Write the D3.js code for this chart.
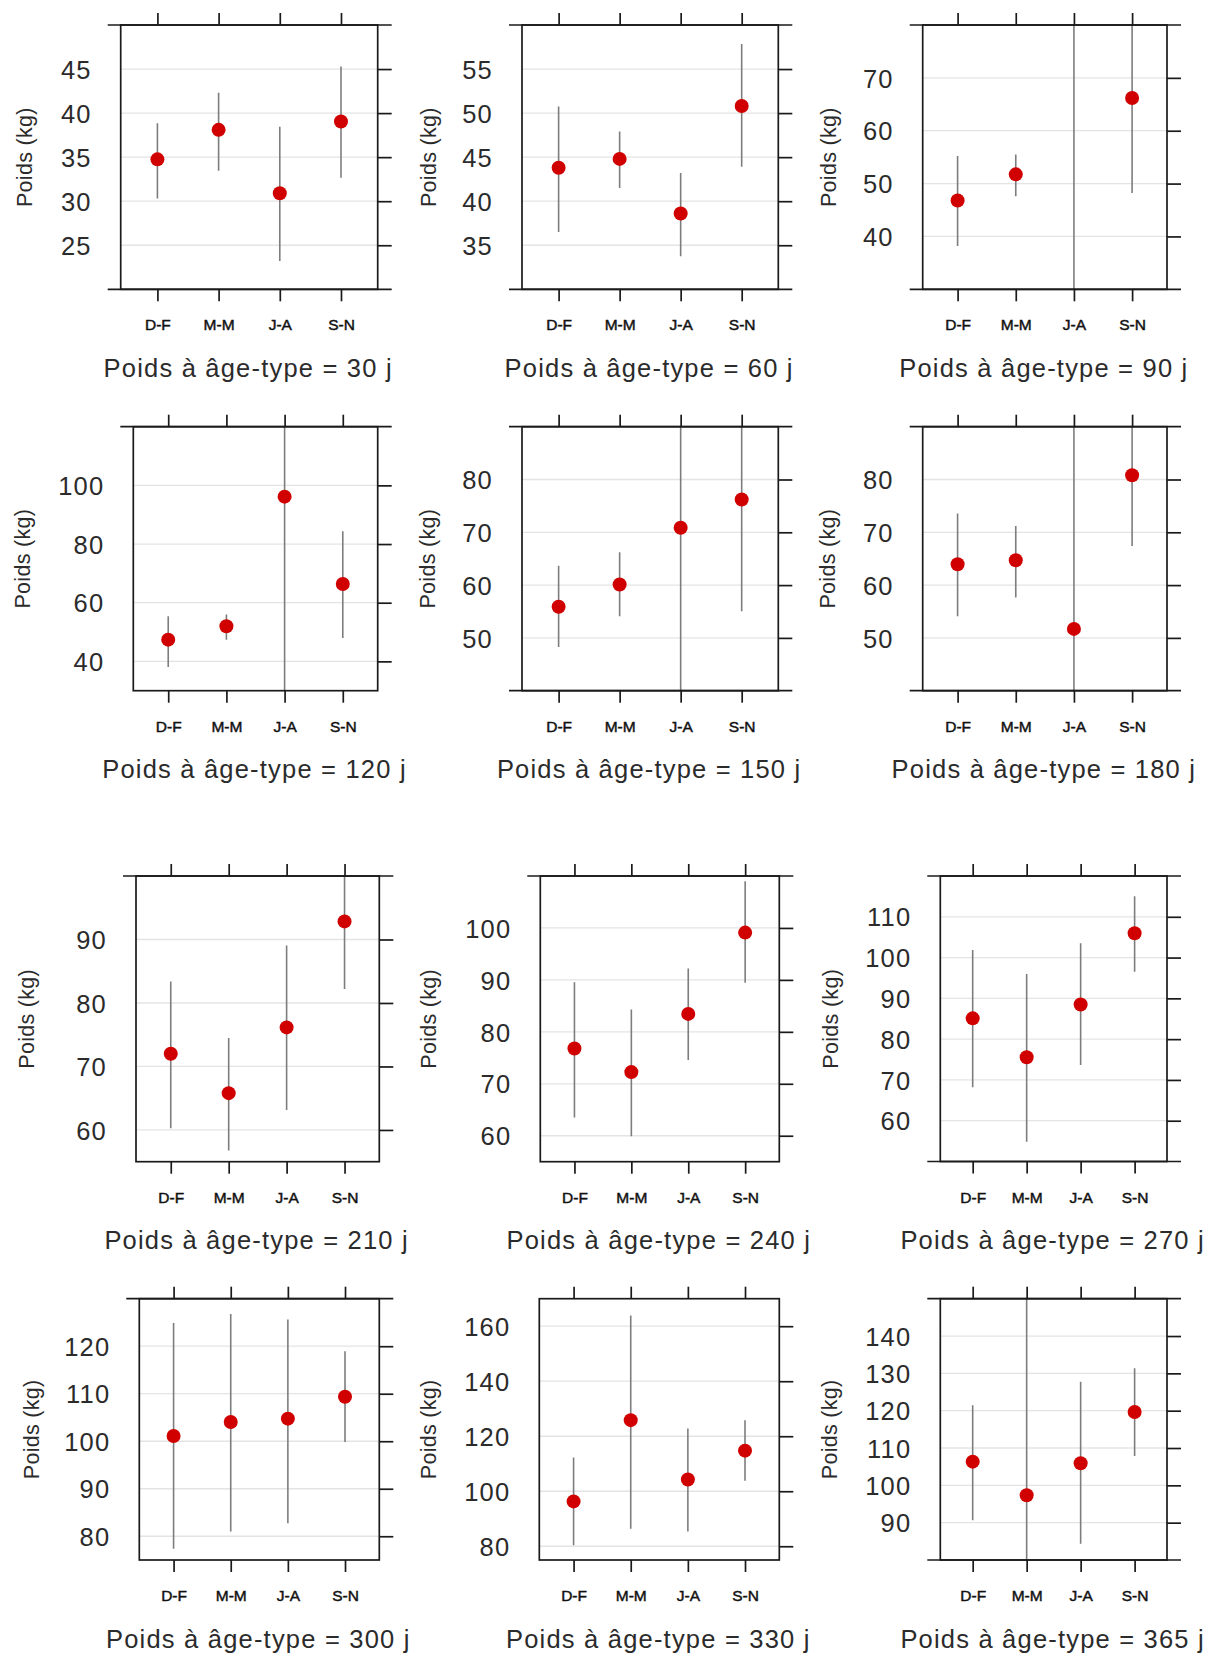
<!DOCTYPE html>
<html><head><meta charset="utf-8">
<script src="https://cdn.jsdelivr.net/npm/d3@7"></script>
<style>body{margin:0;background:#fff} svg{display:block}</style>
</head><body>
<svg id="c" width="1217" height="1656"></svg>
<script>
const categories = ["D-F","M-M","J-A","S-N"];
const ages = [30,60,90,120,150,180,210,240,270,300,330,365];
const yDomains = [[20,50],[30,60],[30,80],[30,120],[40,90],[40,90],[55,100],[55,110],[50,120],[75,130],[75,170],[80,150]];
const tickSteps = [5,5,10,20,10,10,10,10,10,10,20,10];
const means = [
  [34.75, 38.1, 30.9, 39.05],
  [43.8, 44.8, 38.6, 50.8],
  [46.8, 51.75, 27, 66.2],
  [47.4, 51.95, 96.15, 66.4],
  [55.9, 60.1, 70.85, 76.2],
  [63.95, 64.7, 51.7, 80.8],
  [72, 65.8, 76.15, 92.85],
  [76.8, 72.25, 83.45, 99.1],
  [85.1, 75.55, 88.5, 105.95],
  [101.1, 104.05, 104.75, 109.35],
  [96.3, 125.85, 104.25, 114.75],
  [106.35, 97.35, 105.9, 119.65]
];
const lowers = [
  [30.3, 33.45, 23.2, 32.65],
  [36.5, 41.5, 33.75, 43.9],
  [38.2, 47.6, -20, 48.2],
  [38.1, 47.4, 26, 48],
  [48.3, 54.1, 37.8, 55.05],
  [54.1, 57.65, 11.7, 67.4],
  [60.25, 56.75, 63.15, 82.2],
  [63.5, 59.9, 74.6, 89.45],
  [68.2, 54.85, 73.65, 96.5],
  [77.35, 81, 82.75, 99.85],
  [80.35, 86.4, 85.4, 103.8],
  [90.65, 42, 84.35, 107.85]
];
const uppers = [
  [38.85, 42.3, 38.45, 45.3],
  [50.75, 47.9, 43.2, 57.85],
  [55.2, 55.5, 92, 84.5],
  [55.4, 55.95, 166, 84.4],
  [63.65, 66.2, 103.9, 97.3],
  [73.55, 71.2, 91.7, 94.2],
  [83.4, 74.5, 89.05, 103.5],
  [89.55, 84.3, 92.2, 109],
  [101.85, 95.95, 103.5, 115.05],
  [124.9, 126.8, 125.6, 118.95],
  [112.3, 163.85, 122.8, 125.85],
  [121.45, 152, 127.75, 131.35]
];

// layout (pixel boxes of each panel)
const layout = [
  {x0:120.7,x1:377.7,y0:25,y1:289.3,yl:25},
  {x0:522,x1:778.3,y0:25,y1:289.3,yl:428.7},
  {x0:922.7,x1:1167,y0:25,y1:289.3,yl:829.3},
  {x0:133.3,x1:377.7,y0:426.7,y1:690.7,yl:23.3},
  {x0:522,x1:778.3,y0:426.7,y1:690.7,yl:427.7},
  {x0:922.7,x1:1167,y0:426.7,y1:690.7,yl:828.3},
  {x0:136,x1:379.3,y0:876,y1:1161.7,yl:26.7},
  {x0:540.3,x1:779.3,y0:876,y1:1161.7,yl:429.3},
  {x0:940.3,x1:1167,y0:876,y1:1161.5,yl:831},
  {x0:139.3,x1:379.3,y0:1298.7,y1:1560,yl:31.7},
  {x0:539.3,x1:779.3,y0:1298.7,y1:1560,yl:429.3},
  {x0:940.3,x1:1167,y0:1298.7,y1:1560,yl:830.3}
];

const FONT = "'Liberation Sans', Arial, sans-serif";
const INK = "#1a1a1a";
const svg = d3.select("#c");
const defs = svg.append("defs");

ages.forEach((age, i) => {
  const L = layout[i];
  const [lo, hi] = yDomains[i];
  const st = tickSteps[i];
  const x = d3.scalePoint().domain(categories).range([L.x0, L.x1]).padding(0.6);
  const y = d3.scaleLinear().domain(yDomains[i]).range([L.y1, L.y0]);
  const ticks = d3.range(Math.ceil(lo / st - 1e-9) * st, hi + 1e-9, st);
  const inner = ticks.filter(t => t > lo + 1e-9 && t < hi - 1e-9);
  const ends = ticks.filter(t => Math.abs(t - lo) < 1e-9 || Math.abs(t - hi) < 1e-9);

  const g = svg.append("g");
  const cid = "clip" + i;
  defs.append("clipPath").attr("id", cid).append("rect")
    .attr("x", L.x0).attr("y", L.y0).attr("width", L.x1 - L.x0).attr("height", L.y1 - L.y0);

  // grid
  g.append("g").selectAll("line").data(inner).join("line")
    .attr("x1", L.x0).attr("x2", L.x1)
    .attr("y1", d => y(d)).attr("y2", d => y(d))
    .attr("stroke", "#e4e4e4").attr("stroke-width", 1.3);

  const data = categories.map((c, j) => ({c, m: means[i][j], l: lowers[i][j], u: uppers[i][j]}));
  const cg = g.append("g").attr("clip-path", `url(#${cid})`);
  cg.selectAll("line").data(data).join("line")
    .attr("x1", d => x(d.c)).attr("x2", d => x(d.c))
    .attr("y1", d => y(d.l)).attr("y2", d => y(d.u))
    .attr("stroke", "#7d7d7d").attr("stroke-width", 1.6);
  cg.selectAll("circle").data(data).join("circle")
    .attr("cx", d => x(d.c)).attr("cy", d => y(d.m)).attr("r", 7)
    .attr("fill", "#d00000");

  // box
  g.append("rect").attr("x", L.x0).attr("y", L.y0)
    .attr("width", L.x1 - L.x0).attr("height", L.y1 - L.y0)
    .attr("fill", "none").attr("stroke", INK).attr("stroke-width", 1.7);

  // extended lines at tick-valued domain ends
  g.append("g").selectAll("line").data(ends).join("line")
    .attr("x1", L.x0 - 13).attr("x2", L.x1 + 14)
    .attr("y1", d => y(d)).attr("y2", d => y(d))
    .attr("stroke", INK).attr("stroke-width", 1.7);

  // right ticks
  const ar = g.append("g").attr("transform", `translate(${L.x1},0)`)
    .call(d3.axisRight(y).tickValues(inner).tickSize(14).tickFormat(""));
  ar.select(".domain").remove();
  ar.selectAll("line").attr("stroke", INK).attr("stroke-width", 1.7);

  // left labels
  const al = g.append("g").attr("transform", `translate(${L.x0},0)`)
    .call(d3.axisLeft(y).tickValues(inner).tickSize(0).tickPadding(29).tickFormat(d3.format("d")));
  al.select(".domain").remove();
  al.selectAll("text").attr("font-family", FONT).attr("font-size", 25.5)
    .attr("letter-spacing", 1.2).attr("fill", "#2b2b2b").attr("dy", "0.36em");

  // top ticks
  const at = g.append("g").attr("transform", `translate(0,${L.y0})`)
    .call(d3.axisTop(x).tickSize(12).tickFormat(""));
  at.select(".domain").remove();
  at.selectAll("line").attr("stroke", INK).attr("stroke-width", 1.7);

  // bottom ticks + labels
  const ab = g.append("g").attr("transform", `translate(0,${L.y1})`)
    .call(d3.axisBottom(x).tickSize(12).tickPadding(0));
  ab.select(".domain").remove();
  ab.selectAll("line").attr("stroke", INK).attr("stroke-width", 1.7);
  ab.selectAll("text").attr("font-family", FONT).attr("font-size", 15.5)
    .attr("y", 41).attr("dy", 0).attr("fill", "#111")
    .attr("stroke", "#111").attr("stroke-width", 0.45);

  // y title
  g.append("text")
    .attr("transform", `translate(${L.yl},${(L.y0 + L.y1) / 2}) rotate(-90)`)
    .attr("text-anchor", "middle").attr("dominant-baseline", "central")
    .attr("font-family", FONT).attr("font-size", 21.5).attr("letter-spacing", 0.3)
    .attr("fill", "#2b2b2b").text("Poids (kg)");

  // panel title
  g.append("text")
    .attr("x", (L.x0 + L.x1) / 2 - 1).attr("y", L.y1 + 87.5)
    .attr("text-anchor", "middle")
    .attr("font-family", FONT).attr("font-size", 25.5).attr("letter-spacing", 1.2)
    .attr("fill", "#2b2b2b").text(`Poids à âge-type = ${age} j`);
});
</script>
</body></html>
